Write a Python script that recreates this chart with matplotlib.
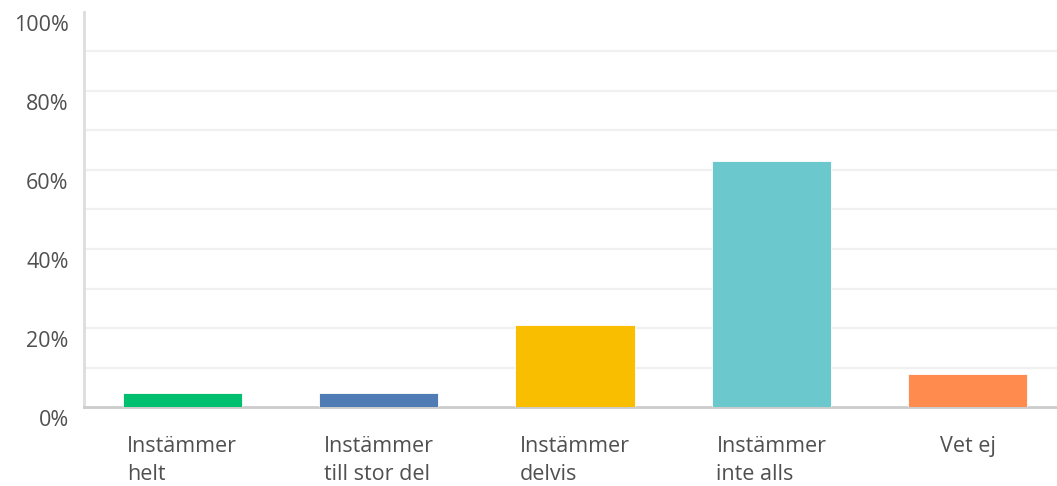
import numpy as np
import matplotlib
matplotlib.use("Agg")
import matplotlib.pyplot as plt
import matplotlib.transforms as mtransforms

categories = ["Instämmer\nhelt", "Instämmer\ntill stor del", "Instämmer\ndelvis",
              "Instämmer\ninte alls", "Vet ej"]
values = [3.6, 3.6, 20.8, 62.4, 8.3]
colors = ["#00BF6F", "#507CB6", "#F9BE00", "#6BC8CD", "#FF8B4F"]
yticks = [0, 20, 40, 60, 80, 100]
ytick_labels = ["0%", "20%", "40%", "60%", "80%", "100%"]

plt.rcParams['font.family'] = ['Open Sans', 'DejaVu Sans']
text_col = "#505050"

fig = plt.figure(figsize=(10.57, 4.86), dpi=100)
ax = fig.add_axes([84/1057, 79/486, 982/1057, 395/486])

x = np.arange(len(categories))
width = 0.606
ax.bar(x, values, width=width, color=colors, edgecolor="white", linewidth=0.6, zorder=3)

ax.set_xlim(-0.5, len(categories) - 0.5)
ax.set_ylim(0, 100)

# light gridlines every 10%
for g in range(10, 100, 10):
    ax.axhline(g, color="#f0f0f0", linewidth=1.6, zorder=1)

ax.set_yticks(yticks)
ax.set_yticklabels(ytick_labels, fontsize=15.5, color=text_col)
ax.tick_params(axis="y", length=0, pad=11)
off = mtransforms.ScaledTranslation(0, -11/100, fig.dpi_scale_trans)
for lbl in ax.get_yticklabels():
    lbl.set_transform(lbl.get_transform() + off)

# category labels: block centred under the bar, lines left aligned
ax.set_xticks(x)
ax.set_xticklabels(categories, fontsize=15.5, color=text_col, ha="center",
                   multialignment="left", linespacing=1.45)
ax.tick_params(axis="x", length=0, pad=21)

for s in ["top", "right"]:
    ax.spines[s].set_visible(False)
ax.spines["left"].set_color("#dddddd")
ax.spines["left"].set_linewidth(2)
ax.spines["bottom"].set_color("#cccccc")
ax.spines["bottom"].set_linewidth(2)

fig.savefig("out.png", dpi=100)
